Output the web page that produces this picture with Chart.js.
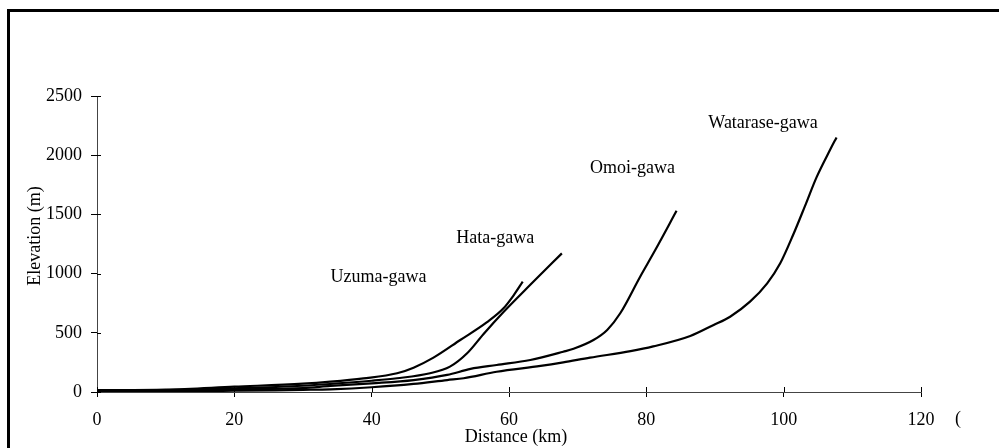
<!DOCTYPE html>
<html>
<head>
<meta charset="utf-8">
<script src="https://cdn.jsdelivr.net/npm/chart.js@4"></script>
<style>
    html, body { margin: 0; padding: 0; background: #fff; }
    #wrap { width: 999px; height: 448px; position: relative; }
</style>
</head>
<body>
<div id="wrap"><canvas id="profileChart" width="999" height="448"></canvas></div>
<script>
// Longitudinal river profiles: distance (km) vs elevation (m)
const uzumaDist = [0, 10, 20, 30, 34, 38.8, 43.7, 46.1, 49, 52.9, 56.8, 59.2, 60.7, 62];
const uzumaElev = [15, 20, 45, 70, 87, 115, 158, 205, 290, 439, 590, 707, 819, 932];

const hataDist = [0, 10, 20, 30, 34, 40, 43.7, 48.5, 51.4, 53.9, 56.3, 59.2, 63.1, 67.7];
const hataElev = [12, 16, 31, 53, 68, 95, 116, 158, 214, 327, 490, 675, 905, 1171];

const omoiDist = [0, 10, 20, 30, 34, 40, 46.1, 51, 54.4, 58.2, 63.1, 67.9, 69.4, 72.3, 74.3, 76.2, 79.1, 81.3, 84.4];
const omoiElev = [10, 13, 23, 33, 51, 73, 101, 144, 195, 228, 270, 340, 365, 439, 524, 665, 974, 1199, 1530];

const wataraseDist = [0, 10, 20, 26, 30, 34, 40, 46.1, 51, 53.4, 58.2, 64.6, 67.9, 71.8, 77.7, 81, 86.4, 89.8, 92.2, 95.1, 97.6, 99.5, 101.4, 103.1, 104.8, 106.8, 107.7];
const wataraseElev = [8, 8, 11, 14, 18, 23, 40, 68, 101, 116, 171, 220, 250, 290, 345, 385, 473, 566, 636, 763, 918, 1087, 1330, 1570, 1815, 2050, 2150];

const riverNames = ['Uzuma-gawa', 'Hata-gawa', 'Omoi-gawa', 'Watarase-gawa'];
// label anchor in data units (distance, elevation)
const labelDist = [41, 58, 78, 97];
const labelElev = [970, 1300, 1890, 2270];

const xTickValues = [0, 20, 40, 60, 80, 100, 120];
const yTickValues = [0, 500, 1000, 1500, 2000, 2500];

const FONT = '"Liberation Serif", "Times New Roman", serif';

function toPoints(xs, ys) {
    return xs.map((x, i) => ({ x: x, y: ys[i] }));
}

const series = [
    toPoints(uzumaDist, uzumaElev),
    toPoints(hataDist, hataElev),
    toPoints(omoiDist, omoiElev),
    toPoints(wataraseDist, wataraseElev)
];

// frame, inner tick halves, river names and axis titles
const decorations = {
    id: 'decorations',
    beforeDraw(chart) {
        const c = chart.ctx;
        c.save();
        c.fillStyle = '#000';
        c.fillRect(7, 9, 992, 3);
        c.fillRect(7, 9, 3, 439);
        c.restore();
    },
    afterDraw(chart) {
        const c = chart.ctx;
        const xs = chart.scales.x;
        const ys = chart.scales.y;
        c.save();
        c.strokeStyle = '#000';
        c.lineWidth = 1;
        c.beginPath();
        xTickValues.forEach(v => {
            const px = Math.round(xs.getPixelForValue(v)) + 0.5;
            c.moveTo(px, ys.bottom);
            c.lineTo(px, ys.bottom - 5);
        });
        yTickValues.forEach(v => {
            const py = Math.round(ys.getPixelForValue(v)) + 0.5;
            c.moveTo(xs.left, py);
            c.lineTo(xs.left + 4, py);
        });
        c.stroke();

        c.fillStyle = '#000';
        c.font = '18px ' + FONT;
        c.textAlign = 'center';
        c.textBaseline = 'middle';
        riverNames.forEach((name, i) => {
            c.fillText(name, xs.getPixelForValue(labelDist[i]), ys.getPixelForValue(labelElev[i]));
        });

        c.fillText('Distance (km)', 516, 437);
        c.fillText('(', 958, 419);

        c.translate(35, 236);
        c.rotate(-Math.PI / 2);
        c.fillText('Elevation (m)', 0, 0);
        c.restore();
    }
};

const ctx = document.getElementById('profileChart').getContext('2d');
new Chart(ctx, {
    type: 'scatter',
    data: {
        datasets: series.map((pts, i) => ({
            label: riverNames[i],
            data: pts,
            showLine: true,
            borderColor: '#000',
            borderWidth: 2.2,
            pointRadius: 0,
            cubicInterpolationMode: 'monotone',
            fill: false
        }))
    },
    options: {
        responsive: false,
        animation: false,
        layout: { padding: { left: 0, right: 78, top: 96, bottom: 0 } },
        plugins: {
            legend: { display: false },
            tooltip: { enabled: false }
        },
        scales: {
            x: {
                type: 'linear',
                min: 0,
                max: 120,
                afterFit(scale) { scale.height = 56; },
                afterBuildTicks(scale) { scale.ticks = xTickValues.map(v => ({ value: v })); },
                border: { color: '#444', width: 1 },
                grid: { drawOnChartArea: false, color: '#000', tickLength: 5 },
                ticks: {
                    color: '#000',
                    padding: 12,
                    maxRotation: 0,
                    font: { family: FONT, size: 18 },
                    callback: v => String(v)
                }
            },
            y: {
                type: 'linear',
                min: 0,
                max: 2500,
                afterFit(scale) { scale.width = 97; },
                afterBuildTicks(scale) { scale.ticks = yTickValues.map(v => ({ value: v })); },
                border: { color: '#444', width: 1 },
                grid: { drawOnChartArea: false, color: '#000', tickLength: 6 },
                ticks: {
                    color: '#000',
                    padding: 9,
                    font: { family: FONT, size: 18 },
                    callback: v => String(v)
                }
            }
        }
    },
    plugins: [decorations]
});
</script>
</body>
</html>
